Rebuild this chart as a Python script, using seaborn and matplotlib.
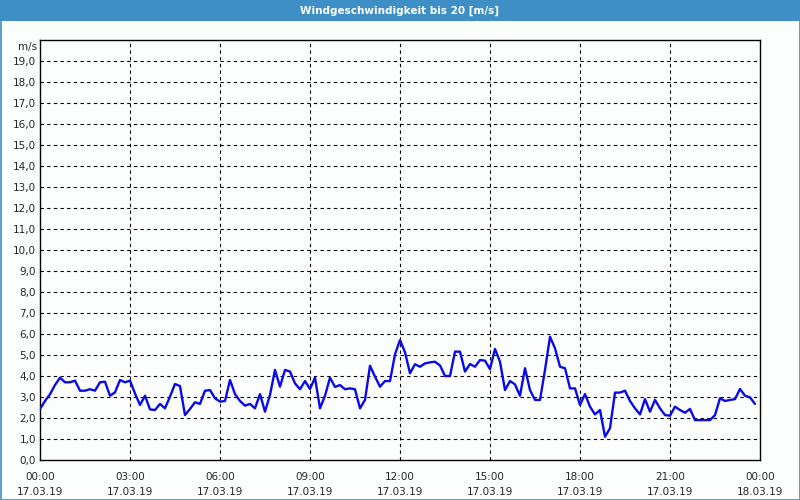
import matplotlib
matplotlib.use("Agg")
import matplotlib.pyplot as plt
import seaborn as sns
import numpy as np
import pandas as pd
from matplotlib.patches import Rectangle

# ---- data ----
title = "Windgeschwindigkeit bis 20 [m/s]"
unit_label = "m/s"
start_time = "2019-03-17 00:00"
sample_minutes = 10
wind_speed = [
    2.43, 2.81, 3.13, 3.57, 3.92, 3.70, 3.70, 3.78, 3.30, 3.30,
    3.37, 3.30, 3.70, 3.73, 3.06, 3.22, 3.81, 3.70, 3.78, 3.17,
    2.62, 3.06, 2.41, 2.38, 2.67, 2.46, 3.02, 3.62, 3.52, 2.14,
    2.43, 2.75, 2.67, 3.30, 3.33, 2.94, 2.78, 2.81, 3.81, 3.14,
    2.81, 2.59, 2.67, 2.46, 3.14, 2.30, 3.10, 4.29, 3.49, 4.29,
    4.21, 3.65, 3.37, 3.76, 3.38, 3.92, 2.46, 3.06, 3.92, 3.48,
    3.57, 3.37, 3.41, 3.37, 2.46, 2.86, 4.49, 3.97, 3.49, 3.76,
    3.76, 5.03, 5.71, 5.13, 4.13, 4.56, 4.44, 4.60, 4.65, 4.68,
    4.50, 4.00, 4.00, 5.16, 5.16, 4.21, 4.57, 4.44, 4.76, 4.73,
    4.33, 5.29, 4.68, 3.33, 3.76, 3.60, 3.06, 4.37, 3.33, 2.86,
    2.86, 4.29, 5.87, 5.32, 4.44, 4.37, 3.41, 3.41, 2.62, 3.14,
    2.54, 2.17, 2.38, 1.11, 1.51, 3.21, 3.21, 3.30, 2.81, 2.46,
    2.17, 2.90, 2.30, 2.86, 2.46, 2.14, 2.11, 2.54, 2.38, 2.25,
    2.43, 1.90, 1.90, 1.90, 1.90, 2.14, 2.94, 2.81, 2.86, 2.90,
    3.38, 3.06, 2.98, 2.67,
]
x_tick_hours = [0, 3, 6, 9, 12, 15, 18, 21, 24]
x_tick_labels = ["00:00\n17.03.19", "03:00\n17.03.19", "06:00\n17.03.19",
                 "09:00\n17.03.19", "12:00\n17.03.19", "15:00\n17.03.19",
                 "18:00\n17.03.19", "21:00\n17.03.19", "00:00\n18.03.19"]
y_ticks = list(range(0, 20))
y_tick_labels = [f"{v},0" for v in y_ticks]

times = pd.date_range(start_time, periods=len(wind_speed), freq=f"{sample_minutes}min")
hours = (times - times[0]).total_seconds() / 3600.0
df = pd.DataFrame({"hour": hours, "speed": wind_speed})

# ---- style ----
sns.set_style("white")
plt.rcParams["font.family"] = ["DejaVu Sans"]

bg = "#fbfefc"
blue_frame = "#3d8fc6"

fig = plt.figure(figsize=(8, 5), dpi=100, facecolor=bg)
# title bar & border
fig.patches.append(Rectangle((0, 1 - 21 / 500), 1, 21 / 500, transform=fig.transFigure,
                             facecolor=blue_frame, edgecolor="none", zorder=0))
fig.patches.append(Rectangle((0.5 / 800, 0.5 / 500), 1 - 1 / 800, 1 - 1 / 500,
                             transform=fig.transFigure, facecolor="none",
                             edgecolor=blue_frame, linewidth=1.2, zorder=1))
fig.text(0.5, 1 - 10.5 / 500, title, color="white", fontsize=7.5,
         fontweight="bold", ha="center", va="center")

ax = fig.add_axes([40 / 800, 40 / 500, 720 / 800, 420 / 500])
ax.set_facecolor(bg)

sns.lineplot(data=df, x="hour", y="speed", ax=ax, color="#0a0ae6",
             linewidth=1.7, zorder=3)

ax.set_xlim(0, 24)
ax.set_ylim(0, 20)
ax.set_xlabel("")
ax.set_ylabel("")

ax.set_xticks(x_tick_hours)
ax.set_xticklabels(x_tick_labels, fontsize=7.5, linespacing=1.55)
ax.set_xticks(range(0, 25), minor=True)
ax.tick_params(axis="x", which="both", direction="out", length=3, width=0.8,
               color="black", pad=6)
ax.set_yticks(y_ticks)
ax.set_yticklabels(y_tick_labels, fontsize=7.5)
ax.tick_params(axis="y", which="both", length=0, pad=3)

# grids
for h in x_tick_hours[1:-1]:
    ax.axvline(h, color="black", linewidth=0.8, linestyle=(0, (3, 3)), zorder=1)
for v in range(1, 20):
    ax.axhline(v, color="black", linewidth=0.8, linestyle=(0, (3, 3)), zorder=1)

for s in ax.spines.values():
    s.set_color("black")
    s.set_linewidth(1.0)
    s.set_visible(True)

fig.text(37 / 800, 1 - 47 / 500, unit_label, fontsize=7.5, ha="right", va="center")

fig.savefig("out.png", dpi=100, facecolor=bg)
